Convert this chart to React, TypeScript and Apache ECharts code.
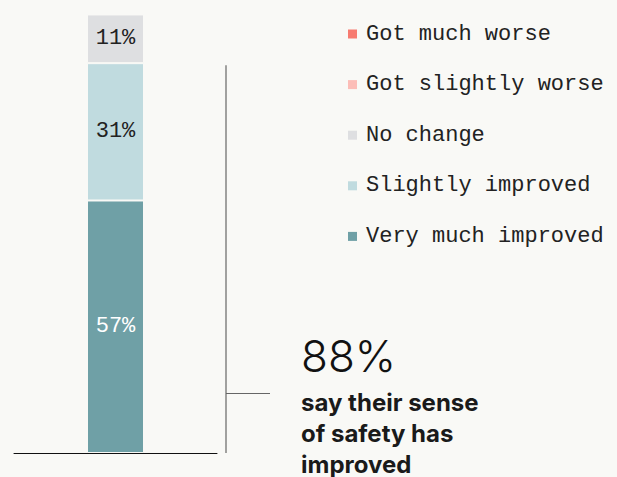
import React, { useEffect, useRef } from "react";
import * as echarts from "echarts";

const categories = ["Sense of safety"];
const seriesNames = [
  "Very much improved",
  "Slightly improved",
  "No change",
  "Got slightly worse",
  "Got much worse",
];
const seriesValues = [[57], [31], [11], [0], [0]];
const seriesColors = ["#6fa0a6", "#c0dbdf", "#dedfe1", "#fcbdb7", "#f77b70"];
const labelColors = ["#ffffff", "#222222", "#222222", "#222222", "#222222"];
const legendOrder = [
  "Got much worse",
  "Got slightly worse",
  "No change",
  "Slightly improved",
  "Very much improved",
];
const improvedShare = 88;
const headline = "88%";
const subLines = ["say their sense", "of safety has", "improved"];

const BG = "#f9f9f6";
const MONO = "'Liberation Mono', 'DejaVu Sans Mono', monospace";

export default function App() {
  const ref = useRef<HTMLDivElement>(null);

  useEffect(() => {
    if (!ref.current) return;
    const chart = echarts.init(ref.current, undefined, { renderer: "svg" });

    const series = seriesNames.map((name, i) => ({
      name,
      type: "bar",
      stack: "total",
      barWidth: 57,
      data: seriesValues[i],
      itemStyle: {
        color: seriesColors[i],
        borderColor: BG,
        borderWidth: seriesValues[i][0] > 0 ? 1 : 0,
      },
      label: {
        show: seriesValues[i][0] > 0,
        position: "inside",
        formatter: "{c}%",
        color: labelColors[i],
        fontFamily: MONO,
        fontSize: 22,
      },
    }));

    chart.setOption({
      animation: false,
      backgroundColor: BG,
      grid: { left: 14, width: 203, top: 10, bottom: 24 },
      xAxis: {
        type: "category",
        data: categories,
        axisLine: { show: true, lineStyle: { color: "#111", width: 1 } },
        axisTick: { show: false },
        axisLabel: { show: false },
      },
      yAxis: {
        type: "value",
        min: 0,
        max: 100,
        show: false,
        splitLine: { show: false },
      },
      legend: {
        data: legendOrder,
        orient: "vertical",
        left: 348,
        top: 23,
        padding: 0,
        icon: "rect",
        itemWidth: 9,
        itemHeight: 9,
        itemGap: 28.6,
        selectedMode: false,
        itemStyle: { borderWidth: 0 },
        textStyle: {
          fontFamily: MONO,
          fontSize: 22,
          color: "#222",
          lineHeight: 22,
          padding: [0, 0, 0, 4],
        },
      },
      series,
    });

    const y0 = chart.convertToPixel({ yAxisIndex: 0 }, 0) as number;
    const yTop = chart.convertToPixel({ yAxisIndex: 0 }, improvedShare) as number;

    chart.setOption({
      graphic: [
        {
          type: "line",
          shape: { x1: 226, y1: yTop + 2, x2: 226, y2: y0 },
          style: { stroke: "#666", lineWidth: 1.2 },
        },
        {
          type: "line",
          shape: { x1: 226, y1: 393.5, x2: 270, y2: 393.5 },
          style: { stroke: "#666", lineWidth: 1.2 },
        },
        {
          type: "text",
          x: 301,
          y: 356,
          style: {
            text: headline,
            font: "300 44px Inter, 'Noto Sans', sans-serif",
            fill: "#111",
            textVerticalAlign: "middle",
          },
        },
        ...subLines.map((t, i) => ({
          type: "text",
          x: 301,
          y: 402 + i * 31,
          style: {
            text: t,
            font: "700 24px Inter, 'Noto Sans', sans-serif",
            fill: "#1a1a1a",
            textVerticalAlign: "middle",
          },
        })),
      ],
    });

    return () => chart.dispose();
  }, []);

  return (
    <div
      ref={ref}
      style={{
        position: "fixed",
        left: 0,
        top: 0,
        width: 617,
        height: 477,
        background: BG,
      }}
    />
  );
}
